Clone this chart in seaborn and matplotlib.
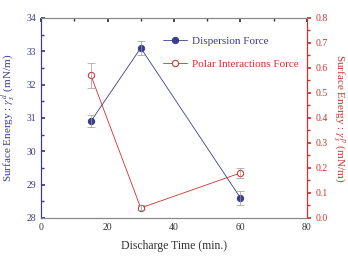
import matplotlib
matplotlib.use("Agg")
import matplotlib.pyplot as plt
import seaborn as sns
import pandas as pd
from matplotlib.ticker import AutoMinorLocator

# datos
tiempo = [15, 30, 60]
dispersion = [30.9, 33.1, 28.6]
dispersion_err = [0.18, 0.2, 0.22]
polar = [0.57, 0.04, 0.18]
polar_err = [0.05, 0.01, 0.02]

azul = "#3b3b8f"
rojo = "#d0302a"

sns.set_theme(style="white")
plt.rcParams["font.family"] = ["Liberation Serif", "DejaVu Serif"]
plt.rcParams["mathtext.fontset"] = "stix"

df = pd.DataFrame({"t": tiempo, "d": dispersion, "p": polar})

fig = plt.figure(figsize=(3.48, 2.57), dpi=100)
ax = fig.add_axes([0.118, 0.152, 0.764, 0.778])
ax2 = ax.twinx()

sns.lineplot(data=df, x="t", y="d", ax=ax, color=azul, marker="o", markersize=4.5,
             linewidth=0.6, markeredgecolor=azul, label="Dispersion Force", legend=False)
ax.errorbar(tiempo, dispersion, yerr=dispersion_err, fmt="none", ecolor="#999999",
            elinewidth=0.5, capsize=3, capthick=0.5)

sns.lineplot(data=df, x="t", y="p", ax=ax2, color=rojo, marker="o", markersize=4.5,
             linewidth=0.6, markerfacecolor="white", markeredgecolor=rojo,
             label="Polar Interactions Force", legend=False)
ax2.errorbar(tiempo, polar, yerr=polar_err, fmt="none", ecolor="#999999",
             elinewidth=0.5, capsize=3, capthick=0.5)

ax.set_xlim(0, 80)
ax.set_ylim(28, 34)
ax2.set_ylim(0, 0.8)
ax.set_xticks([0, 20, 40, 60, 80])
ax.set_yticks(range(28, 35))
ax2.set_yticks([i / 10 for i in range(9)])
ax2.set_yticklabels([f"{i / 10:.1f}" for i in range(9)])

for a in (ax, ax2):
    a.xaxis.set_minor_locator(AutoMinorLocator(2))
    a.yaxis.set_minor_locator(AutoMinorLocator(2))

ax.tick_params(axis="x", which="both", direction="in", labelsize=7, colors="#333333",
               length=3, top=True)
ax.tick_params(axis="x", which="minor", length=2)
ax.tick_params(axis="y", which="both", direction="in", labelsize=7, colors=azul, length=3)
ax.tick_params(axis="y", which="minor", length=2)
ax2.tick_params(axis="y", which="both", direction="out", labelsize=7, colors=rojo, length=3)
ax2.tick_params(axis="y", which="minor", length=2)

ax.set_xlabel("Discharge Time (min.)", fontsize=8.5, color="#333333", labelpad=6)
ax.set_ylabel(r"Surface Energy : $\gamma_s^{\,d}$ (mN/m)", fontsize=8, color=azul, labelpad=6)
ax2.set_ylabel(r"Surface Energy : $\gamma_s^{\,p}$ (mN/m)", fontsize=8, color=rojo,
               rotation=270, labelpad=13)

for a in (ax, ax2):
    a.spines["top"].set_color("#888888")
    a.spines["bottom"].set_color("#888888")
    a.spines["left"].set_color(azul)
    a.spines["right"].set_color(rojo)
    for s in a.spines.values():
        s.set_linewidth(0.8)

h1, l1 = ax.get_legend_handles_labels()
h2, l2 = ax2.get_legend_handles_labels()
leg = ax.legend(h1 + h2, l1 + l2, loc="upper left", bbox_to_anchor=(0.42, 0.96),
                frameon=False, fontsize=8, handlelength=2.2, handletextpad=0.4,
                labelspacing=1.2)
for txt, c in zip(leg.get_texts(), [azul, rojo]):
    txt.set_color(c)

plt.savefig("out.png", dpi=100)
